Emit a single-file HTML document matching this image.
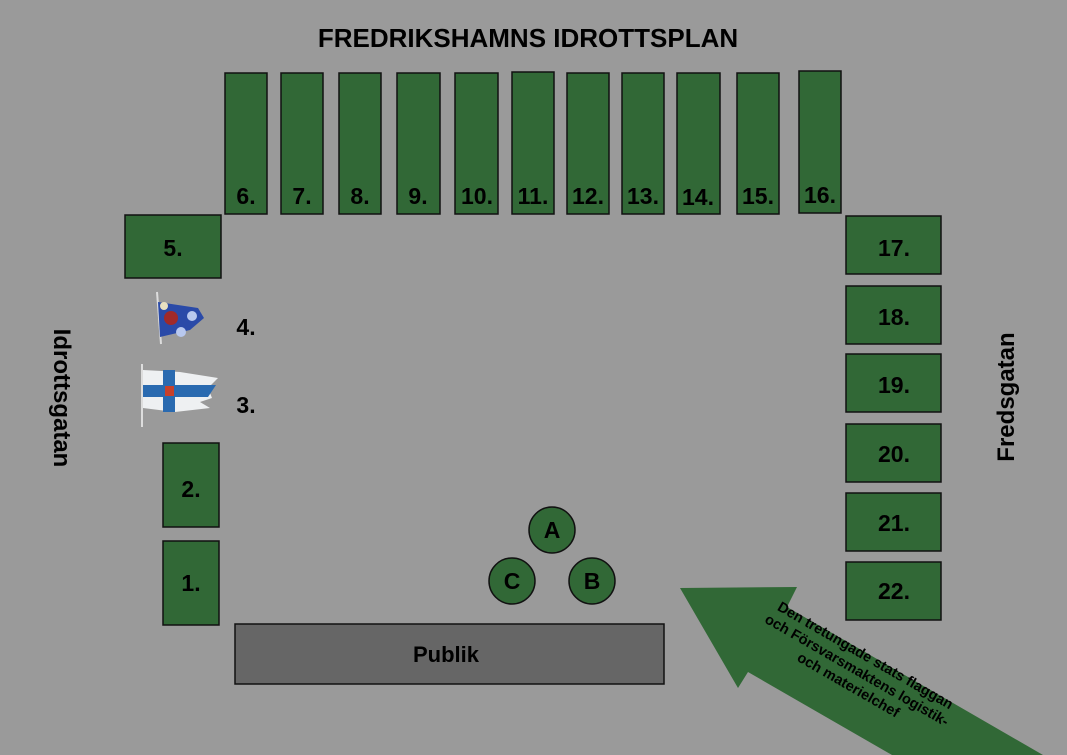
<!DOCTYPE html>
<html><head><meta charset="utf-8"><style>
html,body{margin:0;width:1067px;height:755px;overflow:hidden;background:#9a9a9a;font-family:"Liberation Sans",sans-serif}
svg{display:block;position:absolute;left:0;top:0}
text{font-family:"Liberation Sans",sans-serif;font-weight:bold}
</style></head><body>
<svg width="1067" height="755" viewBox="0 0 1067 755" overflow="hidden">
<rect width="1067" height="755" fill="#9a9a9a"/>
<text x="528" y="47" font-size="26" text-anchor="middle" fill="#000">FREDRIKSHAMNS IDROTTSPLAN</text>
<g fill="#316836" stroke="#111" stroke-width="1.5">
<rect x="225" y="73" width="42" height="141"/>
<rect x="281" y="73" width="42" height="141"/>
<rect x="339" y="73" width="42" height="141"/>
<rect x="397" y="73" width="43" height="141"/>
<rect x="455" y="73" width="43" height="141"/>
<rect x="512" y="72" width="42" height="142"/>
<rect x="567" y="73" width="42" height="141"/>
<rect x="622" y="73" width="42" height="141"/>
<rect x="677" y="73" width="43" height="141"/>
<rect x="737" y="73" width="42" height="141"/>
<rect x="799" y="71" width="42" height="142"/>
<rect x="125" y="215" width="96" height="63"/>
<rect x="163" y="443" width="56" height="84"/>
<rect x="163" y="541" width="56" height="84"/>
<rect x="846" y="216" width="95" height="58"/>
<rect x="846" y="286" width="95" height="58"/>
<rect x="846" y="354" width="95" height="58"/>
<rect x="846" y="424" width="95" height="58"/>
<rect x="846" y="493" width="95" height="58"/>
<rect x="846" y="562" width="95" height="58"/>
<circle cx="552" cy="530" r="23"/>
<circle cx="512" cy="581" r="23"/>
<circle cx="592" cy="581" r="23"/>
</g>
<rect x="235" y="624" width="429" height="60" fill="#666" stroke="#111" stroke-width="1.5"/>
<g font-size="23" fill="#000" text-anchor="middle">
<text x="246" y="204">6.</text><text x="302" y="204">7.</text><text x="360" y="204">8.</text>
<text x="418" y="204">9.</text><text x="477" y="204">10.</text><text x="533" y="204">11.</text>
<text x="588" y="204">12.</text><text x="643" y="204">13.</text><text x="698" y="205">14.</text>
<text x="758" y="204">15.</text><text x="820" y="203">16.</text>
<text x="173" y="256">5.</text><text x="191" y="497">2.</text><text x="191" y="591">1.</text>
<text x="246" y="335">4.</text><text x="246" y="413">3.</text>
<text x="894" y="256">17.</text><text x="894" y="325">18.</text><text x="894" y="393">19.</text>
<text x="894" y="462">20.</text><text x="894" y="531">21.</text><text x="894" y="599">22.</text>
<text x="552" y="538">A</text><text x="512" y="589">C</text><text x="592" y="589">B</text>
<text x="446" y="662" font-size="22">Publik</text>
</g>
<text transform="translate(54,398) rotate(90)" font-size="24" text-anchor="middle">Idrottsgatan</text>
<text transform="translate(1014,397) rotate(-90)" font-size="24" text-anchor="middle">Fredsgatan</text>
<line x1="157" y1="292" x2="161" y2="344" stroke="#ddd" stroke-width="2"/>
<polygon points="158,302 198,308 204,318 190,330 160,337" fill="#2a4aa8"/>
<circle cx="171" cy="318" r="7" fill="#a02a2a"/>
<circle cx="192" cy="316" r="5" fill="#b8c8ee"/><circle cx="181" cy="332" r="5" fill="#b8c8ee"/><circle cx="164" cy="306" r="4" fill="#e8e0c0"/>
<line x1="142" y1="364" x2="142" y2="427" stroke="#ddd" stroke-width="2"/>
<polygon points="143,370 180,372 218,378 208,388 212,398 200,402 210,408 175,412 143,408" fill="#eef0f2"/>
<rect x="163" y="370" width="12" height="42" fill="#2a6ab0"/>
<polygon points="143,385 216,385 208,397 143,397" fill="#2a6ab0"/>
<rect x="165" y="386" width="9" height="10" fill="#c8402a"/>
<polygon points="680,588 797,587 787,607 1043,755 892,755 748,672 738,688" fill="#316836"/>
<g transform="translate(857,670) rotate(30)" font-size="14.5" fill="#000" text-anchor="middle">
<text x="0" y="-12">Den tretungade stats flaggan</text>
<text x="0" y="5">och Försvarsmaktens logistik-</text>
<text x="0" y="22">och materielchef</text>
</g>
</svg>
</body></html>
